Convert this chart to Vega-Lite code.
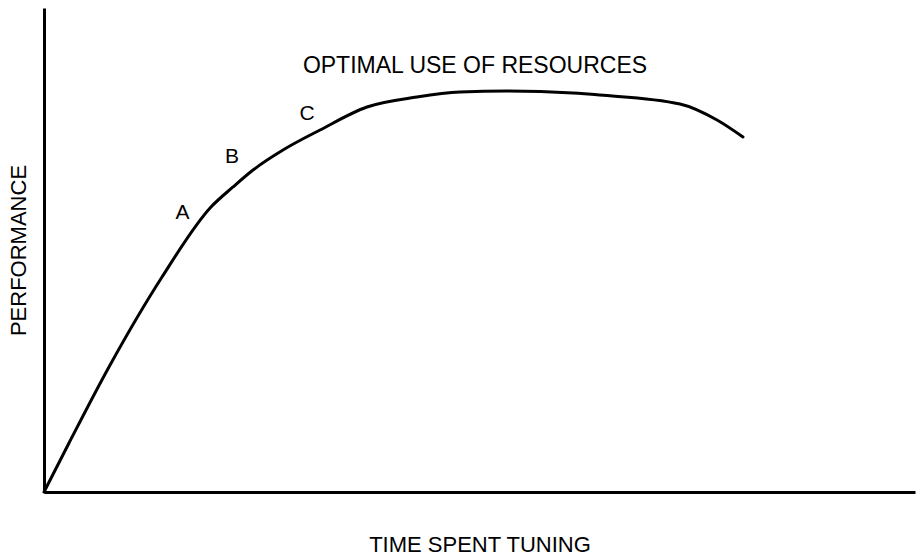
{
  "$schema": "https://vega.github.io/schema/vega-lite/v6.json",
  "width": 871,
  "height": 484,
  "autosize": "none",
  "padding": {"left": 44, "top": 8, "right": 3, "bottom": 64},
  "background": "white",
  "config": {
    "view": {"stroke": null},
    "font": "Liberation Sans"
  },
  "datasets": {
    "curve": [
      {"time": 0, "perf": 0},
      {"time": 2.87, "perf": 10.12},
      {"time": 7.46, "perf": 25.83},
      {"time": 13.55, "perf": 44.42},
      {"time": 19.17, "perf": 58.88},
      {"time": 21.7, "perf": 63.02},
      {"time": 24.0, "perf": 66.53},
      {"time": 27.44, "perf": 70.66},
      {"time": 31.69, "perf": 74.79},
      {"time": 37.08, "perf": 79.55},
      {"time": 42.82, "perf": 81.61},
      {"time": 47.76, "perf": 82.64},
      {"time": 53.16, "perf": 82.85},
      {"time": 60.73, "perf": 82.44},
      {"time": 63.8, "perf": 82.02},
      {"time": 73.02, "perf": 80.17},
      {"time": 77.27, "perf": 76.86},
      {"time": 80.25, "perf": 73.35}
    ],
    "points": [
      {"time": 15.9, "perf": 57.64, "label": "A"},
      {"time": 21.58, "perf": 69.21, "label": "B"},
      {"time": 30.19, "perf": 78.1, "label": "C"}
    ],
    "note": [
      {"time": 49.48, "perf": 88.1, "label": "OPTIMAL USE OF RESOURCES"}
    ]
  },
  "layer": [
    {
      "data": {"name": "curve"},
      "mark": {"type": "line", "color": "black", "strokeWidth": 3, "interpolate": "monotone", "strokeJoin": "round", "strokeCap": "round", "clip": false},
      "encoding": {
        "x": {
          "field": "time", "type": "quantitative",
          "scale": {"domain": [0, 100], "nice": false, "zero": false},
          "axis": {
            "title": "TIME SPENT TUNING", "grid": false, "ticks": false, "labels": false,
            "domainColor": "black", "domainWidth": 3,
            "titleFont": "Liberation Sans", "titleFontSize": 22, "titleFontWeight": "normal",
            "titleColor": "black", "titlePadding": 42
          }
        },
        "y": {
          "field": "perf", "type": "quantitative",
          "scale": {"domain": [0, 100], "nice": false, "zero": false},
          "axis": {
            "title": "PERFORMANCE", "grid": false, "ticks": false, "labels": false,
            "domainColor": "black", "domainWidth": 3,
            "titleFont": "Liberation Sans", "titleFontSize": 22, "titleFontWeight": "normal",
            "titleColor": "black", "titlePadding": 14
          }
        }
      }
    },
    {
      "data": {"name": "points"},
      "mark": {"type": "text", "fontSize": 21, "color": "black", "align": "center", "baseline": "middle", "font": "Liberation Sans"},
      "encoding": {
        "x": {"field": "time", "type": "quantitative"},
        "y": {"field": "perf", "type": "quantitative"},
        "text": {"field": "label"}
      }
    },
    {
      "data": {"name": "note"},
      "mark": {"type": "text", "fontSize": 23, "color": "black", "align": "center", "baseline": "middle", "font": "Liberation Sans"},
      "encoding": {
        "x": {"field": "time", "type": "quantitative"},
        "y": {"field": "perf", "type": "quantitative"},
        "text": {"field": "label"}
      }
    }
  ]
}
